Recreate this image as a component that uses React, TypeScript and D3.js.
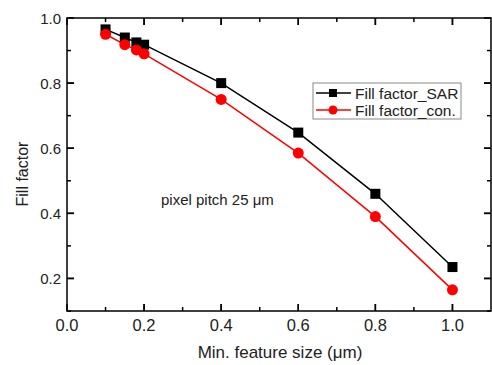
import * as d3 from "d3";
import React, { useEffect, useRef } from "react";

const featureSize = [0.1, 0.15, 0.18, 0.2, 0.4, 0.6, 0.8, 1.0];
const fillSAR = [0.965, 0.94, 0.925, 0.918, 0.8, 0.648, 0.46, 0.235];
const fillCon = [0.95, 0.918, 0.902, 0.89, 0.75, 0.585, 0.39, 0.165];
const xTicks = [0, 0.2, 0.4, 0.6, 0.8, 1.0];
const yTicks = [0.2, 0.4, 0.6, 0.8, 1.0];
const legendLabels = ["Fill factor_SAR", "Fill factor_con."];

const App: React.FC = () => {
  const ref = useRef<SVGSVGElement>(null);

  useEffect(() => {
    const width = 492;
    const height = 365;
    const margin = { top: 18, right: 1, bottom: 54, left: 67 };
    const font = "'Liberation Sans', Arial, sans-serif";

    const svg = d3.select(ref.current!);
    svg.selectAll("*").remove();

    const x = d3.scaleLinear().domain([0, 1.1]).range([margin.left, width - margin.right]);
    const y = d3.scaleLinear().domain([0.1, 1.0]).range([height - margin.bottom, margin.top]);

    const g = svg.append("g");
    const x0 = x.range()[0], x1 = x.range()[1];
    const y0 = y.range()[0], y1 = y.range()[1];

    // frame
    g.append("rect")
      .attr("x", x0).attr("y", y1)
      .attr("width", x1 - x0).attr("height", y0 - y1)
      .attr("fill", "none").attr("stroke", "#000").attr("stroke-width", 1.5);

    const minorX = d3.range(0.1, 1.1, 0.1).map((v) => +v.toFixed(1));
    const minorY = d3.range(0.1, 1.0, 0.1).map((v) => +v.toFixed(1));

    // x ticks (inward, bottom and top)
    minorX.concat(xTicks).forEach((v) => {
      const major = xTicks.some((t) => Math.abs(t - v) < 1e-6);
      const len = major ? 7 : 4;
      g.append("line").attr("x1", x(v)).attr("x2", x(v))
        .attr("y1", y0).attr("y2", y0 - len).attr("stroke", "#000").attr("stroke-width", 1.5);
      g.append("line").attr("x1", x(v)).attr("x2", x(v))
        .attr("y1", y1).attr("y2", y1 + len).attr("stroke", "#000").attr("stroke-width", 1.5);
    });
    minorY.concat(yTicks).forEach((v) => {
      const major = yTicks.some((t) => Math.abs(t - v) < 1e-6);
      const len = major ? 7 : 4;
      g.append("line").attr("x1", x0).attr("x2", x0 + len)
        .attr("y1", y(v)).attr("y2", y(v)).attr("stroke", "#000").attr("stroke-width", 1.5);
      g.append("line").attr("x1", x1).attr("x2", x1 - len)
        .attr("y1", y(v)).attr("y2", y(v)).attr("stroke", "#000").attr("stroke-width", 1.5);
    });

    g.selectAll(".xl").data(xTicks).enter().append("text")
      .attr("x", (d) => x(d)).attr("y", y0 + 20)
      .attr("text-anchor", "middle").attr("font-family", font).attr("font-size", 16.5)
      .attr("fill", "#222").text((d) => d.toFixed(1));

    g.selectAll(".yl").data(yTicks).enter().append("text")
      .attr("x", x0 - 6).attr("y", (d) => y(d) + 5.5)
      .attr("text-anchor", "end").attr("font-family", font).attr("font-size", 15)
      .attr("fill", "#222").text((d) => d.toFixed(1));

    g.append("text")
      .attr("x", 280).attr("y", 358)
      .attr("text-anchor", "middle").attr("font-family", font).attr("font-size", 17)
      .attr("fill", "#222").text("Min. feature size (\u03bcm)");

    g.append("text")
      .attr("transform", "translate(28,174) rotate(-90)")
      .attr("text-anchor", "middle").attr("font-family", font).attr("font-size", 16)
      .attr("fill", "#222").text("Fill factor");

    g.append("text")
      .attr("x", 161).attr("y", 205)
      .attr("font-family", font).attr("font-size", 15)
      .attr("fill", "#222").text("pixel pitch 25 \u03bcm");

    const line = d3.line<number>().x((_, i) => x(featureSize[i])).y((d) => y(d));

    g.append("path").datum(fillSAR).attr("d", line)
      .attr("fill", "none").attr("stroke", "#000").attr("stroke-width", 1.5);
    g.append("path").datum(fillCon).attr("d", line)
      .attr("fill", "none").attr("stroke", "#ff0000").attr("stroke-width", 1.5);

    g.selectAll(".sq").data(fillSAR).enter().append("rect")
      .attr("x", (_, i) => x(featureSize[i]) - 5).attr("y", (d) => y(d) - 5)
      .attr("width", 10).attr("height", 10).attr("fill", "#000");
    g.selectAll(".ci").data(fillCon).enter().append("circle")
      .attr("cx", (_, i) => x(featureSize[i])).attr("cy", (d) => y(d))
      .attr("r", 5.5).attr("fill", "#ff0000");

    // legend
    const lg = g.append("g").attr("transform", "translate(313,83)");
    lg.append("rect").attr("width", 148).attr("height", 36)
      .attr("fill", "#fff").attr("stroke", "#888").attr("stroke-width", 1);
    const colors = ["#000", "#ff0000"];
    legendLabels.forEach((label, i) => {
      const cy = 10 + i * 17;
      lg.append("line").attr("x1", 3).attr("x2", 38).attr("y1", cy).attr("y2", cy)
        .attr("stroke", colors[i]).attr("stroke-width", 1.5);
      if (i === 0) {
        lg.append("rect").attr("x", 16).attr("y", cy - 4).attr("width", 8).attr("height", 8).attr("fill", "#000");
      } else {
        lg.append("circle").attr("cx", 20).attr("cy", cy).attr("r", 4.5).attr("fill", "#ff0000");
      }
      lg.append("text").attr("x", 42).attr("y", cy + 5.5)
        .attr("font-family", font).attr("font-size", 15.5).attr("fill", "#222").text(label);
    });
  }, []);

  return <svg ref={ref} width={492} height={365} style={{ position: "absolute", left: 0, top: 0 }} />;
};

export default App;
